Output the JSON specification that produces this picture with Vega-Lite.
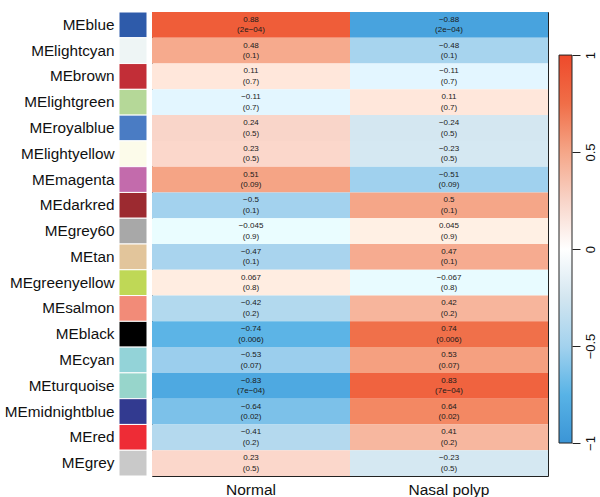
{
  "$schema": "https://vega.github.io/schema/vega-lite/v6.json",
  "padding": {"left": 4, "top": 11, "right": 0, "bottom": 0},
  "background": "white",
  "config": {
    "font": "Liberation Sans",
    "view": {"stroke": null}
  },
  "datasets": {
    "modules": [
      {"module": "MEblue"}, {"module": "MElightcyan"}, {"module": "MEbrown"},
      {"module": "MElightgreen"}, {"module": "MEroyalblue"}, {"module": "MElightyellow"},
      {"module": "MEmagenta"}, {"module": "MEdarkred"}, {"module": "MEgrey60"},
      {"module": "MEtan"}, {"module": "MEgreenyellow"}, {"module": "MEsalmon"},
      {"module": "MEblack"}, {"module": "MEcyan"}, {"module": "MEturquoise"},
      {"module": "MEmidnightblue"}, {"module": "MEred"}, {"module": "MEgrey"}
    ],
    "cells": [
      {"module": "MEblue", "trait": "Normal", "cor": 0.88, "p": "(2e−04)"},
      {"module": "MEblue", "trait": "Nasal polyp", "cor": -0.88, "p": "(2e−04)"},
      {"module": "MElightcyan", "trait": "Normal", "cor": 0.48, "p": "(0.1)"},
      {"module": "MElightcyan", "trait": "Nasal polyp", "cor": -0.48, "p": "(0.1)"},
      {"module": "MEbrown", "trait": "Normal", "cor": 0.11, "p": "(0.7)"},
      {"module": "MEbrown", "trait": "Nasal polyp", "cor": -0.11, "p": "(0.7)"},
      {"module": "MElightgreen", "trait": "Normal", "cor": -0.11, "p": "(0.7)"},
      {"module": "MElightgreen", "trait": "Nasal polyp", "cor": 0.11, "p": "(0.7)"},
      {"module": "MEroyalblue", "trait": "Normal", "cor": 0.24, "p": "(0.5)"},
      {"module": "MEroyalblue", "trait": "Nasal polyp", "cor": -0.24, "p": "(0.5)"},
      {"module": "MElightyellow", "trait": "Normal", "cor": 0.23, "p": "(0.5)"},
      {"module": "MElightyellow", "trait": "Nasal polyp", "cor": -0.23, "p": "(0.5)"},
      {"module": "MEmagenta", "trait": "Normal", "cor": 0.51, "p": "(0.09)"},
      {"module": "MEmagenta", "trait": "Nasal polyp", "cor": -0.51, "p": "(0.09)"},
      {"module": "MEdarkred", "trait": "Normal", "cor": -0.5, "p": "(0.1)"},
      {"module": "MEdarkred", "trait": "Nasal polyp", "cor": 0.5, "p": "(0.1)"},
      {"module": "MEgrey60", "trait": "Normal", "cor": -0.045, "p": "(0.9)"},
      {"module": "MEgrey60", "trait": "Nasal polyp", "cor": 0.045, "p": "(0.9)"},
      {"module": "MEtan", "trait": "Normal", "cor": -0.47, "p": "(0.1)"},
      {"module": "MEtan", "trait": "Nasal polyp", "cor": 0.47, "p": "(0.1)"},
      {"module": "MEgreenyellow", "trait": "Normal", "cor": 0.067, "p": "(0.8)"},
      {"module": "MEgreenyellow", "trait": "Nasal polyp", "cor": -0.067, "p": "(0.8)"},
      {"module": "MEsalmon", "trait": "Normal", "cor": -0.42, "p": "(0.2)"},
      {"module": "MEsalmon", "trait": "Nasal polyp", "cor": 0.42, "p": "(0.2)"},
      {"module": "MEblack", "trait": "Normal", "cor": -0.74, "p": "(0.006)"},
      {"module": "MEblack", "trait": "Nasal polyp", "cor": 0.74, "p": "(0.006)"},
      {"module": "MEcyan", "trait": "Normal", "cor": -0.53, "p": "(0.07)"},
      {"module": "MEcyan", "trait": "Nasal polyp", "cor": 0.53, "p": "(0.07)"},
      {"module": "MEturquoise", "trait": "Normal", "cor": -0.83, "p": "(7e−04)"},
      {"module": "MEturquoise", "trait": "Nasal polyp", "cor": 0.83, "p": "(7e−04)"},
      {"module": "MEmidnightblue", "trait": "Normal", "cor": -0.64, "p": "(0.02)"},
      {"module": "MEmidnightblue", "trait": "Nasal polyp", "cor": 0.64, "p": "(0.02)"},
      {"module": "MEred", "trait": "Normal", "cor": -0.41, "p": "(0.2)"},
      {"module": "MEred", "trait": "Nasal polyp", "cor": 0.41, "p": "(0.2)"},
      {"module": "MEgrey", "trait": "Normal", "cor": 0.23, "p": "(0.5)"},
      {"module": "MEgrey", "trait": "Nasal polyp", "cor": -0.23, "p": "(0.5)"}
    ],
    "colorbar": [{"lo": -1, "hi": 1}]
  },
  "spacing": 9,
  "hconcat": [
    {
      "spacing": 3,
      "resolve": {"scale": {"color": "independent"}},
      "hconcat": [
        {
          "data": {"name": "modules"},
          "width": 28,
          "height": 464,
          "mark": {"type": "rect", "stroke": "white", "strokeWidth": 1},
          "encoding": {
            "y": {
              "field": "module", "type": "nominal", "sort": null,
              "scale": {"paddingInner": 0, "paddingOuter": 0},
              "axis": {
                "title": null, "ticks": false, "domain": false,
                "labelFontSize": 15.3, "labelPadding": 5, "labelColor": "#111111",
                "labelLimit": 0
              }
            },
            "color": {
              "field": "module", "type": "nominal", "legend": null,
              "scale": {
                "domain": ["MEblue", "MElightcyan", "MEbrown", "MElightgreen", "MEroyalblue", "MElightyellow", "MEmagenta", "MEdarkred", "MEgrey60", "MEtan", "MEgreenyellow", "MEsalmon", "MEblack", "MEcyan", "MEturquoise", "MEmidnightblue", "MEred", "MEgrey"],
                "range": ["#2E5BAA", "#EEF5F5", "#C22E37", "#B5D898", "#4A7CC4", "#FCFBEA", "#C36BAC", "#9C2A30", "#A8A8A8", "#E2C59B", "#BFD856", "#F28B78", "#000000", "#93D3D8", "#97D5CB", "#323A90", "#EE2C36", "#C9C9C9"]
              }
            }
          }
        },
        {
          "data": {"name": "cells"},
          "width": 396,
          "height": 464,
          "view": {"stroke": "#222222", "strokeWidth": 1},
          "encoding": {
            "x": {
              "field": "trait", "type": "nominal", "sort": ["Normal", "Nasal polyp"],
              "scale": {"paddingInner": 0, "paddingOuter": 0},
              "axis": {
                "title": null, "ticks": false, "domain": false, "labelAngle": 0,
                "labelFontSize": 15.5, "labelPadding": 6, "labelColor": "#111111"
              }
            },
            "y": {
              "field": "module", "type": "nominal", "sort": null,
              "scale": {"paddingInner": 0, "paddingOuter": 0},
              "axis": null
            }
          },
          "layer": [
            {
              "mark": {"type": "rect"},
              "encoding": {
                "color": {
                  "field": "cor", "type": "quantitative", "legend": null,
                  "scale": {
                    "type": "linear",
                    "domain": [-1, -0.75, -0.5, -0.25, 0, 0.25, 0.5, 0.75, 1],
                    "range": ["#3B95D6", "#58B3E6", "#A3D2EE", "#D3E6F0", "#FFFFFF", "#F8D4C8", "#F5A688", "#F06E48", "#EE4A2B"]
                  }
                }
              }
            },
            {
              "mark": {"type": "text", "fontSize": 8, "dy": -5, "color": "#1a1a1a"},
              "encoding": {"text": {"field": "cor", "type": "quantitative", "format": ".2"}}
            },
            {
              "mark": {"type": "text", "fontSize": 8, "dy": 5.5, "color": "#1a1a1a"},
              "encoding": {"text": {"field": "p", "type": "nominal"}}
            }
          ]
        }
      ]
    },
    {
      "data": {"name": "colorbar"},
      "width": 13,
      "height": 464,
      "mark": {
        "type": "rect",
        "stroke": "#222222",
        "strokeWidth": 1,
        "fill": {
          "gradient": "linear", "x1": 0, "y1": 1, "x2": 0, "y2": 0,
          "stops": [
            {"offset": 0, "color": "#3B95D6"},
            {"offset": 0.125, "color": "#58B3E6"},
            {"offset": 0.25, "color": "#A3D2EE"},
            {"offset": 0.375, "color": "#D3E6F0"},
            {"offset": 0.5, "color": "#FFFFFF"},
            {"offset": 0.625, "color": "#F8D4C8"},
            {"offset": 0.75, "color": "#F5A688"},
            {"offset": 0.875, "color": "#F06E48"},
            {"offset": 1, "color": "#EE4A2B"}
          ]
        }
      },
      "encoding": {
        "y": {
          "field": "lo", "type": "quantitative",
          "scale": {"domain": [-1.17, 1.222], "nice": false, "zero": false},
          "axis": {
            "orient": "right", "title": null, "domain": false, "grid": false,
            "values": [-1, -0.5, 0, 0.5, 1], "format": "~g", "tickSize": 8, "tickColor": "#222222",
            "labelAngle": -90, "labelAlign": "center", "labelBaseline": "top",
            "labelPadding": 4, "labelFontSize": 13, "labelColor": "#111111"
          }
        },
        "y2": {"field": "hi"}
      }
    }
  ]
}
